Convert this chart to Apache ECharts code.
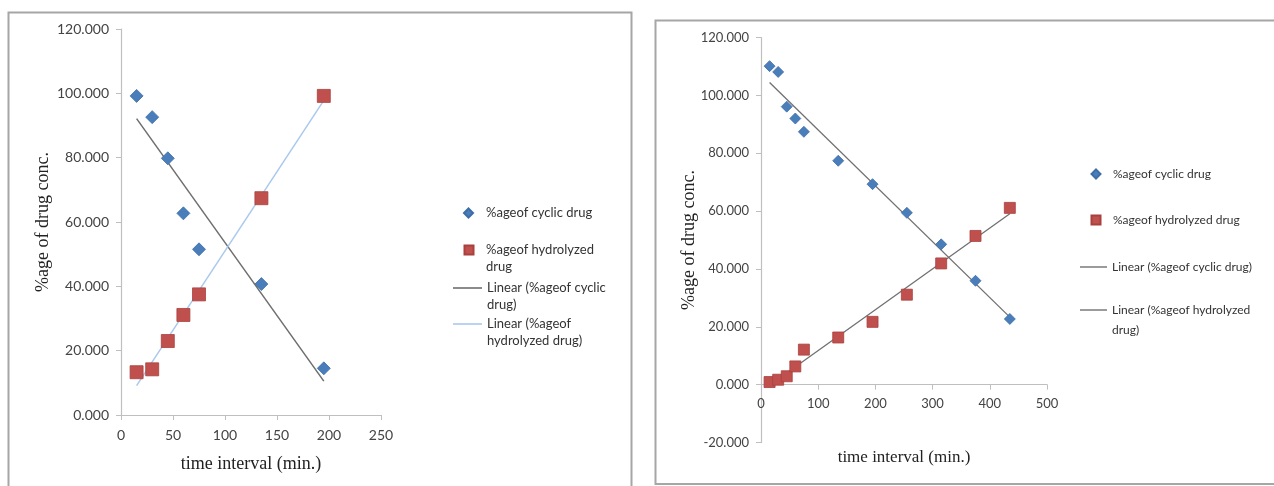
<!DOCTYPE html>
<html><head><meta charset="utf-8">
<script src="https://cdn.jsdelivr.net/npm/echarts@6/dist/echarts.min.js"></script>
<style>html,body{margin:0;padding:0;background:#fff}#c{width:1274px;height:486px}</style>
</head><body><div id="c"></div>
<script>
// ---- data ----
const timeA = [15, 30, 45, 60, 75, 135, 195];
const cyclicA = [99.2, 92.6, 79.8, 62.7, 51.5, 40.7, 14.5];
const hydroA = [13.3, 14.2, 23.0, 31.1, 37.5, 67.4, 99.2];
const timeB = [15, 30, 45, 60, 75, 135, 195, 255, 315, 375, 435];
const cyclicB = [110.1, 108.1, 96.1, 92.0, 87.4, 77.4, 69.3, 59.4, 48.5, 35.9, 22.7];
const hydroB = [0.9, 1.7, 2.9, 6.3, 12.1, 16.3, 21.7, 31.1, 41.9, 51.4, 61.1];
const xTicksA = [0, 250, 50];
const yTicksA = [0, 120, 20];
const xTicksB = [0, 500, 100];
const yTicksB = [-20, 120, 20];
const names = {
  cycA: '%ageof cyclic drug',
  hydA: '%ageof hydrolyzed\ndrug',
  linCycA: 'Linear (%ageof cyclic\ndrug)',
  linHydA: 'Linear (%ageof\nhydrolyzed drug)',
  cycB: '%ageof cyclic drug',
  hydB: '%ageof hydrolyzed drug',
  linCycB: 'Linear (%ageof cyclic drug)',
  linHydB: 'Linear (%ageof hydrolyzed\ndrug)'
};

function pairs(xs, ys) { return xs.map((x, i) => [x, ys[i]]); }
function trend(xs, ys) {
  const n = xs.length;
  const mx = xs.reduce((a, b) => a + b, 0) / n;
  const my = ys.reduce((a, b) => a + b, 0) / n;
  let sxy = 0, sxx = 0;
  for (let i = 0; i < n; i++) { sxy += (xs[i] - mx) * (ys[i] - my); sxx += (xs[i] - mx) ** 2; }
  const b = sxy / sxx, a = my - b * mx;
  const x0 = Math.min(...xs), x1 = Math.max(...xs);
  return [[x0, a + b * x0], [x1, a + b * x1]];
}

const BLUE = '#4A7EBB', RED = '#C0504D';
const labelFont = 'Lato';
const GRID_B_H = 405;
// the right chart's x axis sits on y = 0: shift it up from the grid bottom by the pixel height of [yMin, 0]
const zeroOffsetB = -GRID_B_H * (0 - yTicksB[0]) / (yTicksB[1] - yTicksB[0]);

function xAxis(idx, t, fs, gap, offset) {
  return {
    type: 'value', gridIndex: idx, min: t[0], max: t[1], interval: t[2],
    offset: offset,
    name: 'time interval (min.)', nameLocation: 'middle', nameGap: gap, nameMoveOverlap: false,
    nameTextStyle: { fontFamily: 'Liberation Serif', fontSize: fs, color: '#222' },
    axisLine: { onZero: false, lineStyle: { color: '#bfbfbf', width: 1.2 } },
    axisTick: { show: true, length: 5, lineStyle: { color: '#bfbfbf' } },
    splitLine: { show: false },
    axisLabel: { fontFamily: labelFont, fontSize: idx === 0 ? 14 : 13, color: '#444', margin: 13 }
  };
}
function yAxis(idx, t, fs, gap) {
  return {
    type: 'value', gridIndex: idx, min: t[0], max: t[1], interval: t[2],
    name: '%age of drug conc.', nameLocation: 'middle', nameGap: gap, nameMoveOverlap: false,
    nameTextStyle: { fontFamily: 'Liberation Serif', fontSize: fs, color: '#222' },
    axisLine: { show: true, onZero: false, lineStyle: { color: '#bfbfbf', width: 1.2 } },
    axisTick: { show: true, length: 5, lineStyle: { color: '#bfbfbf' } },
    splitLine: { show: false },
    axisLabel: { fontFamily: labelFont, fontSize: idx === 0 ? 14 : 13, color: '#444', margin: 12,
      formatter: v => v.toFixed(3) }
  };
}
function leg(name, icon, left, top, w, h, fs, lh, twoLine, padLeft) {
  return {
    data: [name], icon: icon, left: left, top: top, orient: 'vertical', padding: 0,
    itemWidth: w, itemHeight: h, itemGap: 0, selectedMode: false,
    formatter: twoLine ? (n => '\n' + n) : (n => n),
    textStyle: { fontFamily: labelFont, fontSize: fs, lineHeight: lh, color: '#333', padding: [0, 0, 0, padLeft] }
  };
}

const chart = echarts.init(document.getElementById('c'), null, { renderer: 'canvas' });
chart.setOption({
  animation: false,
  backgroundColor: '#fff',
  grid: [
    { left: 121, top: 29, width: 260, height: 386, outerBoundsMode: 'none', containLabel: false },
    { left: 761, top: 37.5, width: 286, height: GRID_B_H, outerBoundsMode: 'none', containLabel: false }
  ],
  xAxis: [xAxis(0, xTicksA, 18, 40, 0), xAxis(1, xTicksB, 17, 64, zeroOffsetB)],
  yAxis: [yAxis(0, yTicksA, 18, 69), yAxis(1, yTicksB, 18, 63)],
  legend: [
    leg(names.cycA, 'diamond', 463, 204.5, 9, 9, 13, 17, false, 8),
    leg(names.hydA, 'rect', 463.5, 224.5, 9, 9, 13, 17, true, 7.5),
    leg(names.linCycA, 'rect', 453, 262.5, 29, 1.6, 13, 17, true, 0),
    leg(names.linHydA, 'rect', 453, 298.5, 29, 1.6, 13, 17, true, 0),
    leg(names.cycB, 'diamond', 1090.5, 164.5, 9, 9, 12, 19, false, 7.5),
    leg(names.hydB, 'rect', 1090.5, 210.5, 9, 9, 12, 19, false, 7.5),
    leg(names.linCycB, 'rect', 1080, 257.5, 27, 1.4, 12, 19, false, 0),
    leg(names.linHydB, 'rect', 1080, 280, 27, 1.4, 12, 20, true, 0)
  ],
  graphic: [
    { type: 'rect', shape: { x: 8.5, y: 12.5, width: 623, height: 490 }, style: { fill: 'none', stroke: '#a6a6a6', lineWidth: 2 }, silent: true },
    { type: 'rect', shape: { x: 655.5, y: 20.5, width: 640, height: 463.5 }, style: { fill: 'none', stroke: '#a6a6a6', lineWidth: 2 }, silent: true }
  ],
  series: [
    { name: names.linCycA, type: 'line', xAxisIndex: 0, yAxisIndex: 0, data: trend(timeA, cyclicA), symbol: 'none',
      lineStyle: { color: '#6e6e6e', width: 1.5 }, itemStyle: { color: '#6e6e6e' }, z: 2 },
    { name: names.linHydA, type: 'line', xAxisIndex: 0, yAxisIndex: 0, data: trend(timeA, hydroA), symbol: 'none',
      lineStyle: { color: '#a9c9ee', width: 1.5 }, itemStyle: { color: '#a9c9ee' }, z: 2 },
    { name: names.cycA, type: 'scatter', xAxisIndex: 0, yAxisIndex: 0, data: pairs(timeA, cyclicA), symbol: 'diamond', symbolSize: 13,
      itemStyle: { color: BLUE, borderColor: '#3d6ea8', borderWidth: 0.8, opacity: 1 }, z: 3 },
    { name: names.hydA, type: 'scatter', xAxisIndex: 0, yAxisIndex: 0, data: pairs(timeA, hydroA), symbol: 'rect', symbolSize: 13,
      itemStyle: { color: RED, borderColor: '#a8403d', borderWidth: 0.8, opacity: 1 }, z: 3 },

    { name: names.linCycB, type: 'line', xAxisIndex: 1, yAxisIndex: 1, data: trend(timeB, cyclicB), symbol: 'none',
      lineStyle: { color: '#707070', width: 1.3 }, itemStyle: { color: '#707070' }, z: 2 },
    { name: names.linHydB, type: 'line', xAxisIndex: 1, yAxisIndex: 1, data: trend(timeB, hydroB), symbol: 'none',
      lineStyle: { color: '#707070', width: 1.3 }, itemStyle: { color: '#707070' }, z: 2 },
    { name: names.cycB, type: 'scatter', xAxisIndex: 1, yAxisIndex: 1, data: pairs(timeB, cyclicB), symbol: 'diamond', symbolSize: 11,
      itemStyle: { color: BLUE, borderColor: '#3d6ea8', borderWidth: 0.8, opacity: 1 }, z: 3 },
    { name: names.hydB, type: 'scatter', xAxisIndex: 1, yAxisIndex: 1, data: pairs(timeB, hydroB), symbol: 'rect', symbolSize: 11,
      itemStyle: { color: RED, borderColor: '#a8403d', borderWidth: 0.8, opacity: 1 }, z: 3 }
  ]
});
</script>
</body></html>
